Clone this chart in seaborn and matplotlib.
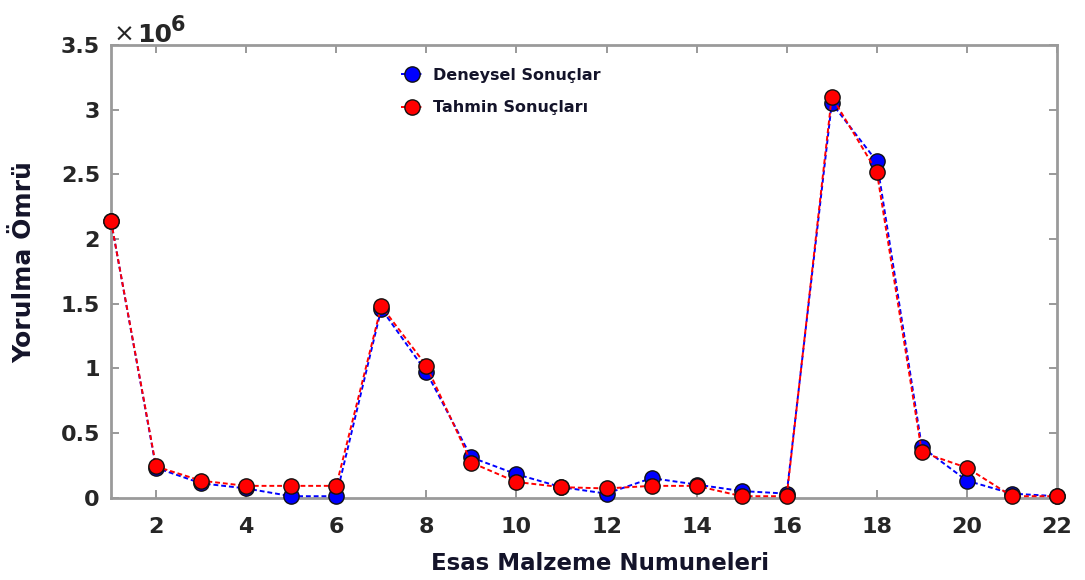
import numpy as np
import pandas as pd
import matplotlib
matplotlib.use("Agg")
import matplotlib.pyplot as plt
import seaborn as sns
from matplotlib.ticker import FuncFormatter, MultipleLocator

# Sample numbers (1..22)
numune = list(range(1, 23))

# Fatigue life, in millions of cycles
deneysel = [2.14, 0.23, 0.11, 0.07, 0.01, 0.01, 1.46, 0.97, 0.31, 0.18, 0.08,
            0.03, 0.15, 0.10, 0.05, 0.03, 3.05, 2.60, 0.39, 0.13, 0.03, 0.01]
tahmin = [2.14, 0.24, 0.13, 0.09, 0.09, 0.09, 1.48, 1.02, 0.27, 0.12, 0.08,
          0.07, 0.09, 0.09, 0.01, 0.01, 3.10, 2.52, 0.35, 0.23, 0.01, 0.01]

series_names = ["Deneysel Sonuçlar", "Tahmin Sonuçları"]
series_colors = ["#0000ff", "#ff0000"]

x_ticks = list(range(2, 23, 2))

sns.set_theme(style="white")
plt.rcParams["font.family"] = ["DejaVu Sans"]

df = pd.DataFrame({
    "Numune": numune * 2,
    "Omur": deneysel + tahmin,
    "Seri": [series_names[0]] * len(numune) + [series_names[1]] * len(numune),
})

W, H = 1085, 580
fig = plt.figure(figsize=(W / 100, H / 100), dpi=100)
ax = fig.add_axes([111 / W, 1 - 497.5 / H, 946 / W, 452.5 / H])

for name, color in zip(series_names, series_colors):
    sub = df[df["Seri"] == name]
    sns.lineplot(data=sub, x="Numune", y="Omur", ax=ax, color=color,
                 linestyle=(0, (2.5, 1.5)), linewidth=1.4, marker="o",
                 markersize=11, markerfacecolor=color,
                 markeredgecolor="#111111", markeredgewidth=1.0,
                 label=name, clip_on=False, zorder=3)

ax.set_xlim(1, 22)
ax.set_ylim(0, 3.5)
ax.set_xticks(x_ticks)
ax.yaxis.set_major_locator(MultipleLocator(0.5))
ax.yaxis.set_major_formatter(FuncFormatter(lambda v, p: f"{v:g}"))

ax.tick_params(axis="both", direction="in", length=6, width=1.2,
               color="#888888", labelsize=16, labelcolor="#262626",
               top=True, right=True, bottom=True, left=True)
ax.tick_params(axis="x", pad=14)
ax.tick_params(axis="y", pad=8)
for lab in ax.get_xticklabels() + ax.get_yticklabels():
    lab.set_fontweight("bold")

for side, sp in ax.spines.items():
    sp.set_visible(True)
    sp.set_color("#9a9a9a")
    sp.set_linewidth(2.0)

ax.set_xlabel("Esas Malzeme Numuneleri", fontsize=16.5, fontweight="bold",
              color="#14142a")
ax.set_ylabel("Yorulma Ömrü", fontsize=18, fontweight="bold",
              color="#14142a")
ax.xaxis.set_label_coords((600 - 111) / 946, -(563 - 497.5) / 452.5)
ax.yaxis.set_label_coords(-(111 - 24) / 946, (497.5 - 262) / 452.5)
ax.xaxis.label.set_va("center")
ax.yaxis.label.set_va("center")

# Scale factor of the y axis
fig.text(114 / W, 1 - 42 / H, "×", fontsize=18, color="#262626",
         ha="left", va="baseline")
fig.text(137 / W, 1 - 42 / H, "10", fontsize=18, fontweight="bold",
         color="#262626", ha="left", va="baseline")
fig.text(171 / W, 1 - 31 / H, "6", fontsize=15, fontweight="bold",
         color="#262626", ha="left", va="baseline")

leg = ax.legend(loc="upper left", bbox_to_anchor=(0.3066, 0.95), frameon=False,
                fontsize=11.5, handlelength=1.4, handletextpad=0.6,
                labelspacing=1.1, borderaxespad=0, borderpad=0)
for t in leg.get_texts():
    t.set_fontweight("bold")
    t.set_color("#14142a")

fig.savefig("out.png", dpi=100)
